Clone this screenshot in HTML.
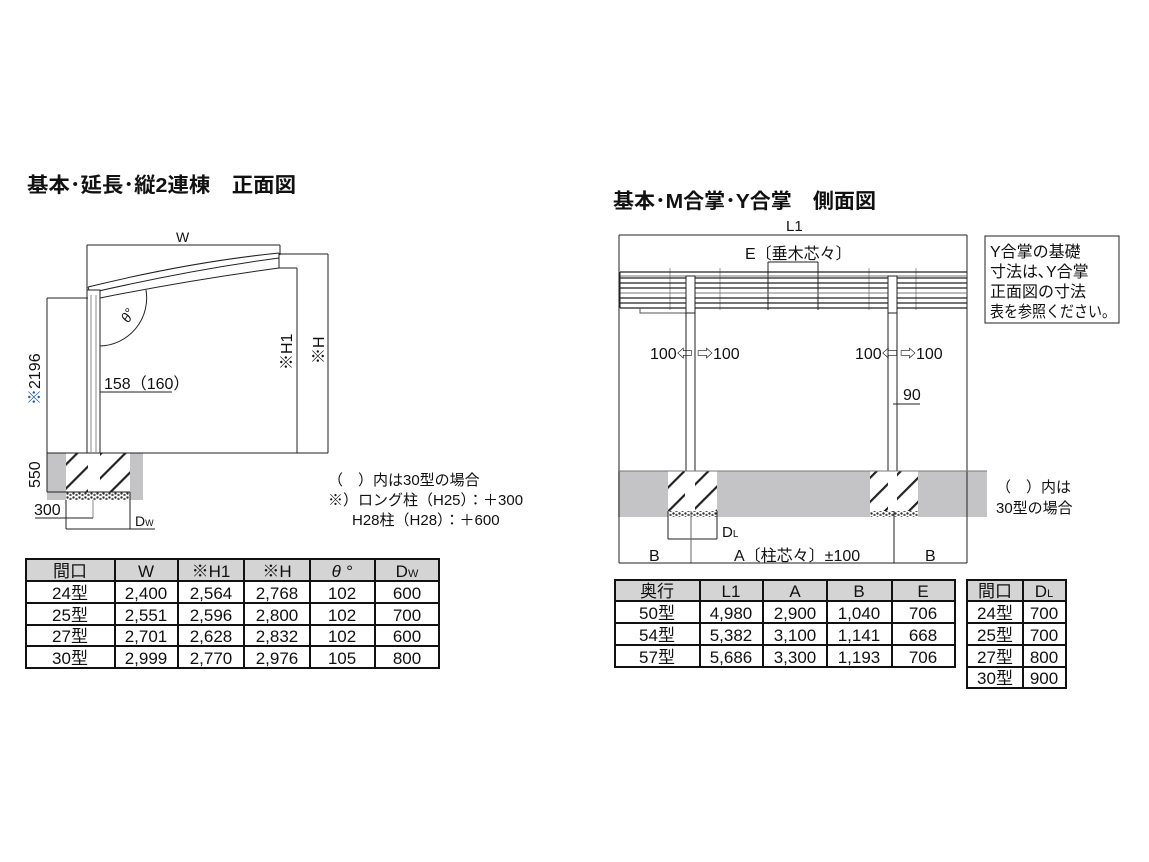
<!DOCTYPE html>
<html><head><meta charset="utf-8"><style>
html,body{margin:0;padding:0;background:#fff;width:1149px;height:862px;overflow:hidden}
svg{display:block}
text{font-family:"Liberation Sans","Noto Sans CJK JP",sans-serif;fill:#111}
</style></head><body>
<svg width="1149" height="862" viewBox="0 0 1149 862" xmlns="http://www.w3.org/2000/svg">
<defs>
<pattern id="hat" width="17" height="17" patternUnits="userSpaceOnUse" patternTransform="rotate(45)">
<rect width="17" height="17" fill="#fff"/><rect x="0" y="0" width="2.2" height="17" fill="#222"/>
</pattern>
<pattern id="grv" width="6" height="4" patternUnits="userSpaceOnUse">
<rect width="6" height="4" fill="#fff"/><circle cx="1.5" cy="1.5" r="1.2" fill="#333"/><circle cx="4.5" cy="3" r="1.2" fill="#555"/>
</pattern>
</defs>

<!-- Titles -->
<text x="27" y="192" font-size="20.5" font-weight="bold" textLength="269" lengthAdjust="spacingAndGlyphs">基本･延長･縦2連棟　正面図</text>
<text x="613" y="208" font-size="20.5" font-weight="bold" textLength="263" lengthAdjust="spacingAndGlyphs">基本･M合掌･Y合掌　側面図</text>

<!-- LEFT DRAWING -->
<g stroke="#222" stroke-width="1" fill="none">
<rect x="47" y="453" width="96" height="47" fill="#c4c4c6" stroke="none"/>
<rect x="66" y="453" width="64" height="39" fill="url(#hat)" stroke="none"/>
<rect x="66" y="492" width="64" height="8" fill="url(#grv)" stroke="none"/>
<rect x="88" y="453" width="12" height="39" fill="#fff" stroke="none"/>
<line x1="87" y1="245" x2="280" y2="245"/>
<line x1="87" y1="245" x2="87" y2="290"/>
<line x1="280" y1="245" x2="280" y2="255"/>
<path d="M88 287 Q190 262 279 253"/>
<path d="M90 293 Q190 270 279 258"/>
<path d="M100 298 Q190 280 279 268"/>
<line x1="279" y1="253" x2="279" y2="268"/>
<line x1="88" y1="287" x2="90" y2="293"/>
<rect x="87" y="290" width="13" height="163" fill="#fff"/>
<line x1="91" y1="295" x2="91" y2="452" stroke="#888"/>
<line x1="96" y1="295" x2="96" y2="452" stroke="#888"/>
<line x1="279" y1="254" x2="328" y2="254"/>
<line x1="328" y1="254" x2="328" y2="453"/>
<line x1="279" y1="268" x2="297" y2="268"/>
<line x1="297" y1="268" x2="297" y2="453"/>
<line x1="47" y1="453" x2="328" y2="453"/>
<line x1="47" y1="298" x2="88" y2="298"/>
<line x1="47" y1="298" x2="47" y2="492"/>
<line x1="47" y1="492" x2="130" y2="492"/>
<line x1="130" y1="492" x2="130" y2="529"/>
<line x1="66" y1="500" x2="66" y2="529"/>
<line x1="93" y1="500" x2="93" y2="518" stroke="#888"/>
<line x1="35" y1="518" x2="93" y2="518"/>
<line x1="66" y1="529" x2="155" y2="529"/>
<path d="M146 290 A48 48 0 0 1 100 346"/>
<line x1="100" y1="392" x2="172" y2="392"/>
</g>
<text x="176" y="242" font-size="14">W</text>
<text x="126" y="325" font-size="14" font-style="italic" transform="rotate(-60 126 322)">θ°</text>
<text x="104" y="389" font-size="16">158（160）</text>
<text font-size="16" transform="translate(40 405) rotate(-90)"><tspan fill="#1a5aa8">※</tspan>2196</text>
<text font-size="16" transform="translate(40 488) rotate(-90)">550</text>
<text font-size="16" transform="translate(292 370) rotate(-90)">※H1</text>
<text font-size="16" transform="translate(324 364) rotate(-90)">※H</text>
<text x="34" y="515" font-size="16">300</text>
<text x="135" y="526" font-size="14">D<tspan font-size="9">W</tspan></text>
<text x="328" y="485" font-size="15">（　）内は30型の場合</text>
<text x="328" y="505" font-size="15">※）ロング柱（H25）：＋300</text>
<text x="352" y="525" font-size="15">H28柱（H28）：＋600</text>

<!-- LEFT TABLE -->
<g font-size="17" text-anchor="middle">
<rect x="26" y="559" width="413" height="22" fill="#d4d4d4"/>
<g stroke="#111" stroke-width="2" fill="none">
<rect x="26" y="559" width="413" height="109"/>
<line x1="26" y1="581" x2="439" y2="581"/><line x1="26" y1="603" x2="439" y2="603"/>
<line x1="26" y1="625" x2="439" y2="625"/><line x1="26" y1="646" x2="439" y2="646"/>
<line x1="115" y1="559" x2="115" y2="668"/><line x1="178" y1="559" x2="178" y2="668"/>
<line x1="244" y1="559" x2="244" y2="668"/><line x1="310" y1="559" x2="310" y2="668"/>
<line x1="375" y1="559" x2="375" y2="668"/>
</g>
<text x="70" y="577">間口</text><text x="146" y="577">W</text><text x="211" y="577">※H1</text><text x="277" y="577">※H</text><text x="342" y="577" font-style="italic">θ °</text><text x="407" y="577">D<tspan font-size="11">W</tspan></text>
<text x="70" y="599">24型</text><text x="146" y="599">2,400</text><text x="211" y="599">2,564</text><text x="277" y="599">2,768</text><text x="342" y="599">102</text><text x="407" y="599">600</text>
<text x="70" y="621">25型</text><text x="146" y="621">2,551</text><text x="211" y="621">2,596</text><text x="277" y="621">2,800</text><text x="342" y="621">102</text><text x="407" y="621">700</text>
<text x="70" y="642">27型</text><text x="146" y="642">2,701</text><text x="211" y="642">2,628</text><text x="277" y="642">2,832</text><text x="342" y="642">102</text><text x="407" y="642">600</text>
<text x="70" y="664">30型</text><text x="146" y="664">2,999</text><text x="211" y="664">2,770</text><text x="277" y="664">2,976</text><text x="342" y="664">105</text><text x="407" y="664">800</text>
</g>

<!-- RIGHT DRAWING -->
<g stroke="#222" stroke-width="1" fill="none">
<rect x="618" y="471" width="369" height="46" fill="#c4c4c6" stroke="none"/>
<rect x="668" y="471" width="49" height="40" fill="url(#hat)" stroke="none"/>
<rect x="668" y="511" width="49" height="6" fill="url(#grv)" stroke="none"/>
<rect x="870" y="471" width="48" height="40" fill="url(#hat)" stroke="none"/>
<rect x="870" y="511" width="48" height="6" fill="url(#grv)" stroke="none"/>
<rect x="685" y="471" width="10" height="40" fill="#fff" stroke="none"/>
<rect x="888" y="471" width="9" height="40" fill="#fff" stroke="none"/>
<line x1="619" y1="235" x2="967" y2="235"/>
<line x1="619" y1="235" x2="619" y2="563"/>
<line x1="967" y1="235" x2="967" y2="563"/>
<line x1="768" y1="262" x2="818" y2="262"/>
<line x1="768" y1="262" x2="768" y2="310"/>
<line x1="818" y1="262" x2="818" y2="310"/>
<g stroke="#999"><line x1="670" y1="268" x2="670" y2="310"/><line x1="720" y1="268" x2="720" y2="310"/><line x1="869" y1="268" x2="869" y2="310"/><line x1="916" y1="268" x2="916" y2="310"/></g>
<g stroke-width="1.3">
<line x1="620" y1="272" x2="967" y2="272"/>
<line x1="620" y1="278" x2="967" y2="278"/>
<line x1="620" y1="283" x2="967" y2="283"/>
<line x1="620" y1="288" x2="967" y2="288"/>
<line x1="620" y1="298" x2="967" y2="298"/>
<line x1="620" y1="303" x2="967" y2="303"/>
<line x1="620" y1="308" x2="967" y2="308"/>
</g>
<line x1="620" y1="276" x2="967" y2="276" stroke="#777"/>
<line x1="620" y1="293" x2="967" y2="293" stroke="#777"/>
<line x1="620" y1="272" x2="620" y2="308"/>
<path d="M640 308 L640 313 L686 313" stroke="#555"/>
<rect x="686" y="276" width="9" height="37" fill="#fff"/>
<rect x="888" y="276" width="9" height="37" fill="#fff"/>
<line x1="686" y1="313" x2="686" y2="471"/><line x1="695" y1="313" x2="695" y2="471"/>
<line x1="888" y1="313" x2="888" y2="471"/><line x1="897" y1="313" x2="897" y2="471"/>
<line x1="618" y1="471" x2="987" y2="471" stroke="#777"/>
<line x1="668" y1="511" x2="668" y2="539"/><line x1="717" y1="511" x2="717" y2="539"/>
<line x1="668" y1="539" x2="717" y2="539"/>
<line x1="691" y1="511" x2="691" y2="563" stroke="#666"/>
<line x1="894" y1="511" x2="894" y2="563"/>
<line x1="619" y1="563" x2="967" y2="563"/>
<line x1="893" y1="404" x2="920" y2="404"/>
</g>
<text x="786" y="231" font-size="15">L1</text>
<text x="745" y="259" font-size="16">E〔垂木芯々〕</text>
<text x="650" y="359" font-size="16">100⇦</text>
<text x="697" y="359" font-size="16">⇨100</text>
<text x="855" y="359" font-size="16">100⇦</text>
<text x="900" y="359" font-size="16">⇨100</text>
<text x="903" y="400" font-size="16">90</text>
<text x="722" y="537" font-size="15">D<tspan font-size="10">L</tspan></text>
<text x="649" y="561" font-size="16">B</text>
<text x="734" y="561" font-size="16">A〔柱芯々〕±100</text>
<text x="925" y="561" font-size="16">B</text>
<rect x="985" y="236" width="134" height="87" fill="#fff" stroke="#222"/>
<g font-size="16"><text x="990" y="257">Y合掌の基礎</text><text x="990" y="277">寸法は､Y合掌</text><text x="990" y="297">正面図の寸法</text><text x="990" y="317" textLength="126" lengthAdjust="spacingAndGlyphs">表を参照ください。</text></g>
<text x="996" y="492" font-size="15">（　）内は</text>
<text x="996" y="513" font-size="15">30型の場合</text>

<!-- RIGHT TABLES -->
<g font-size="17" text-anchor="middle">
<rect x="615" y="580" width="340" height="21" fill="#d4d4d4"/>
<rect x="967" y="580" width="99" height="21" fill="#d4d4d4"/>
<g stroke="#111" stroke-width="2" fill="none">
<rect x="615" y="580" width="340" height="87"/>
<line x1="615" y1="601" x2="955" y2="601"/><line x1="615" y1="623" x2="955" y2="623"/><line x1="615" y1="645" x2="955" y2="645"/>
<line x1="700" y1="580" x2="700" y2="667"/><line x1="763" y1="580" x2="763" y2="667"/><line x1="827" y1="580" x2="827" y2="667"/><line x1="892" y1="580" x2="892" y2="667"/>
<rect x="967" y="580" width="99" height="108"/>
<line x1="967" y1="601" x2="1066" y2="601"/><line x1="967" y1="623" x2="1066" y2="623"/><line x1="967" y1="645" x2="1066" y2="645"/><line x1="967" y1="667" x2="1066" y2="667"/>
<line x1="1023" y1="580" x2="1023" y2="688"/>
</g>
<text x="657" y="597">奥行</text><text x="731" y="597">L1</text><text x="795" y="597">A</text><text x="859" y="597">B</text><text x="923" y="597">E</text>
<text x="657" y="619">50型</text><text x="731" y="619">4,980</text><text x="795" y="619">2,900</text><text x="859" y="619">1,040</text><text x="923" y="619">706</text>
<text x="657" y="641">54型</text><text x="731" y="641">5,382</text><text x="795" y="641">3,100</text><text x="859" y="641">1,141</text><text x="923" y="641">668</text>
<text x="657" y="663">57型</text><text x="731" y="663">5,686</text><text x="795" y="663">3,300</text><text x="859" y="663">1,193</text><text x="923" y="663">706</text>
<text x="995" y="597">間口</text><text x="1044" y="597">D<tspan font-size="11">L</tspan></text>
<text x="995" y="619">24型</text><text x="1044" y="619">700</text>
<text x="995" y="641">25型</text><text x="1044" y="641">700</text>
<text x="995" y="663">27型</text><text x="1044" y="663">800</text>
<text x="995" y="684">30型</text><text x="1044" y="684">900</text>
</g>
</svg>
</body></html>
